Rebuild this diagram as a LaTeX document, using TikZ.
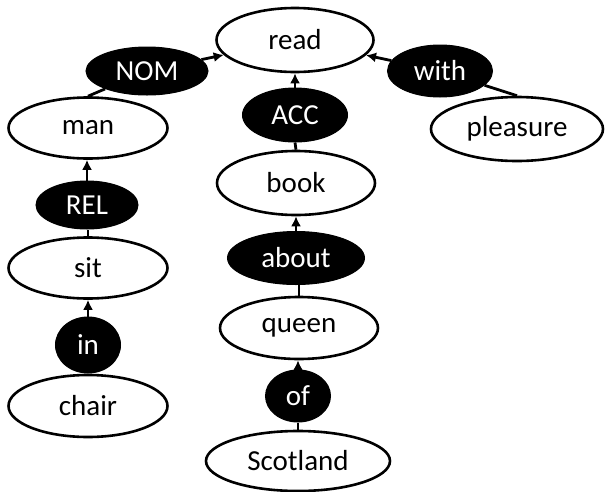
\documentclass[tikz,border=0pt]{standalone}
\usepackage{fontspec}
\setmainfont{Carlito}
\usetikzlibrary{shapes.geometric,arrows.meta}
\begin{document}
\begin{tikzpicture}[x=1pt,y=-1pt,
  word/.style={ellipse,draw=black,fill=white,line width=2.6pt,inner sep=0pt,font=\fontsize{29}{34}\selectfont},
  rel/.style={ellipse,draw=black,fill=black,text=white,line width=1pt,inner sep=0pt,font=\fontsize{29}{34}\selectfont},
  link/.style={line width=2.8pt},
  arr/.style={line width=2.8pt,-{Latex[length=10pt,width=10pt]}}]
\useasboundingbox (0,0) rectangle (606,491);
% word nodes
\node[word,minimum width=157pt,minimum height=64pt] (read) at (295,40) {read};
\node[word,minimum width=159pt,minimum height=61pt] (man) at (88,128) {man};
\node[word,minimum width=172pt,minimum height=64pt] (pleasure) at (517,129) {pleasure};
\node[word,minimum width=158pt,minimum height=64pt] (book) at (296,183) {book};
\node[word,minimum width=159pt,minimum height=61pt] (sit) at (88,268) {sit};
\node[word,minimum width=158pt,minimum height=62pt] (queen) at (299,328) {queen};
\node[word,minimum width=159pt,minimum height=62pt] (chair) at (88,406) {chair};
\node[word,minimum width=184pt,minimum height=60pt] (scotland) at (298,461) {Scotland};
% relation nodes
\node[rel,minimum width=122pt,minimum height=48pt] (nom) at (147,71) {NOM};
\node[rel,minimum width=105pt,minimum height=52pt] (with) at (440,71) {with};
\node[rel,minimum width=105pt,minimum height=54pt] (acc) at (295,115) {ACC};
\node[rel,minimum width=102pt,minimum height=48pt] (relnode) at (87,205) {REL};
\node[rel,minimum width=137pt,minimum height=53pt] (about) at (296,258) {about};
\node[rel,minimum width=65pt,minimum height=56pt] (in) at (88,345) {in};
\node[rel,minimum width=65pt,minimum height=52pt] (of) at (298,396) {of};
% connectors
\draw[link] (man.north) -- (nom);
\draw[arr] (nom) -- (read);
\draw[link] (pleasure.north) -- (with);
\draw[arr] (with) -- (read);
\draw[link] (book.north) -- (acc.south);
\draw[arr] (acc.north) -- (read.south);
\draw[link] (queen.north) -- (queen.north |- about.south);
\draw[arr] (about.north) -- (about.north |- book.south);
\draw[link] (scotland.north) -- (scotland.north |- of.south);
\draw[arr] (of.north) -- (of.north |- queen.south);
\draw[link] (sit.north) -- (sit.north |- relnode.south);
\draw[arr] (relnode.north) -- (relnode.north |- man.south);
\draw[link] (chair.north) -- (in.south);
\draw[arr] (in.north) -- (sit.south);
\end{tikzpicture}
\end{document}
